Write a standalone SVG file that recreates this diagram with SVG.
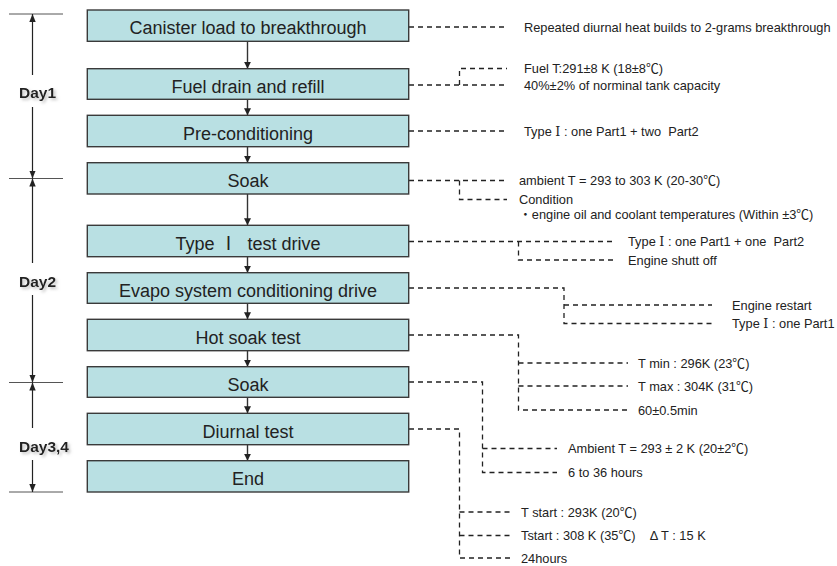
<svg xmlns="http://www.w3.org/2000/svg" width="837" height="566" viewBox="0 0 837 566" xml:space="preserve">
<defs>
<style>
text{white-space:pre}
.box{fill:#b9e0e3;stroke:#3a3a3a;stroke-width:1.4}
.bt{font-family:"Liberation Sans","Noto Sans CJK JP",sans-serif;font-size:18px;fill:#222;text-anchor:middle}
.at{font-family:"Liberation Sans","Noto Sans CJK JP",sans-serif;font-size:12.8px;fill:#222}
.rn{font-family:"DejaVu Serif","Noto Sans CJK JP",serif}
.day{font-family:"Liberation Sans",Arial,sans-serif;font-size:15.5px;font-weight:bold;fill:#222}
.flow{stroke:#333;stroke-width:1.4;fill:none;marker-end:url(#ah)}
.dash{stroke:#222;stroke-width:1.3;fill:none;stroke-dasharray:5,4}
.tick{stroke:#555;stroke-width:1;fill:none}
.dl{stroke:#222;stroke-width:1.2;fill:none}
</style>
<marker id="ah" viewBox="0 0 10 10" refX="10" refY="5" markerWidth="7" markerHeight="7" markerUnits="userSpaceOnUse" orient="auto"><path d="M0,0 L10,5 L0,10 Z" fill="#222"/></marker>
<marker id="dh" viewBox="0 0 10 10" refX="10" refY="5" markerWidth="8" markerHeight="8" markerUnits="userSpaceOnUse" orient="auto"><path d="M0,1 L10,5 L0,9 Z" fill="#222"/></marker>
<filter id="sh" x="-20%" y="-40%" width="150%" height="180%"><feDropShadow dx="2" dy="2" stdDeviation="1.5" flood-color="#999" flood-opacity="0.6"/></filter>
</defs>
<rect width="837" height="566" fill="#fff"/>

<g id="days">
<path class="tick" d="M9,14 H63 M9,178.5 H63 M9,382.5 H63 M9,492 H63"/>
<path class="dl" marker-end="url(#dh)" d="M32.5,75 V14"/>
<path class="dl" marker-end="url(#dh)" d="M32.5,107 V178.5"/>
<path class="dl" marker-end="url(#dh)" d="M32.5,263 V178.5"/>
<path class="dl" marker-end="url(#dh)" d="M32.5,295 V382.5"/>
<path class="dl" marker-end="url(#dh)" d="M32.5,428 V382.5"/>
<path class="dl" marker-end="url(#dh)" d="M32.5,460 V492"/>
<text class="day" x="19" y="97.5" filter="url(#sh)">Day1</text>
<text class="day" x="19" y="286.5" filter="url(#sh)">Day2</text>
<text class="day" x="19" y="451.5" filter="url(#sh)">Day3,4</text>
</g>

<g id="connectors">
<path class="flow" d="M247.5,41.3 V68.7"/>
<path class="flow" d="M247.5,99.3 V115.3"/>
<path class="flow" d="M247.5,146.7 V162.7"/>
<path class="flow" d="M247.5,194 V225.3"/>
<path class="flow" d="M247.5,256.7 V272.7"/>
<path class="flow" d="M247.5,303.3 V319.3"/>
<path class="flow" d="M247.5,350.7 V366.7"/>
<path class="flow" d="M247.5,397.3 V413.3"/>
<path class="flow" d="M247.5,444.7 V460.7"/>
<path class="dash" d="M409,27 H507"/>
<path class="dash" d="M409,85 H507 M459.5,85 V68.5 H507"/>
<path class="dash" d="M409,131 H507"/>
<path class="dash" d="M409,180.5 H507 M459.5,180.5 V199.5 H507"/>
<path class="dash" d="M409,241.5 H615 M518.5,241.5 V260 H615"/>
<path class="dash" d="M409,288 H564 V323.5 H712 M564,305 H712"/>
<path class="dash" d="M409,335 H518.5 V410 H628 M518.5,363 H628 M518.5,386 H628"/>
<path class="dash" d="M409,382 H482.5 V472.5 H557 M482.5,448.5 H557"/>
<path class="dash" d="M409,429 H459.5 V558 H510 M459.5,512 H510 M459.5,535.5 H510"/>
</g>

<g id="n1"><rect class="box" x="87.3" y="10" width="321.4" height="31.3"/><text class="bt" x="248" y="34.3">Canister load to breakthrough</text></g>
<g id="n2"><rect class="box" x="87.3" y="68.7" width="321.4" height="30.6"/><text class="bt" x="248" y="93.2">Fuel drain and refill</text></g>
<g id="n3"><rect class="box" x="87.3" y="115.3" width="321.4" height="31.4"/><text class="bt" x="248" y="139.8">Pre-conditioning</text></g>
<g id="n4"><rect class="box" x="87.3" y="162.7" width="321.4" height="31.3"/><text class="bt" x="248" y="187.2">Soak</text></g>
<g id="n5"><rect class="box" x="87.3" y="225.3" width="321.4" height="31.4"/><text class="bt" x="248" y="249.8">Type Ⅰ  test drive</text></g>
<g id="n6"><rect class="box" x="87.3" y="272.7" width="321.4" height="30.6"/><text class="bt" x="248" y="297.2">Evapo system conditioning drive</text></g>
<g id="n7"><rect class="box" x="87.3" y="319.3" width="321.4" height="31.4"/><text class="bt" x="248" y="343.8">Hot soak test</text></g>
<g id="n8"><rect class="box" x="87.3" y="366.7" width="321.4" height="30.6"/><text class="bt" x="248" y="391.2">Soak</text></g>
<g id="n9"><rect class="box" x="87.3" y="413.3" width="321.4" height="31.4"/><text class="bt" x="248" y="437.8">Diurnal test</text></g>
<g id="n10"><rect class="box" x="87.3" y="460.7" width="321.4" height="31.3"/><text class="bt" x="248" y="485.2">End</text></g>

<g id="notes">
<text class="at" x="524" y="31.5">Repeated diurnal heat builds to 2-grams breakthrough</text>
<text class="at" x="524" y="73">Fuel T:291±8 K (18±8℃)</text>
<text class="at" x="524" y="89.5">40%±2% of norminal tank capacity</text>
<text class="at" x="524" y="135.5">Type <tspan class="rn">Ⅰ</tspan> : one Part1 + two  Part2</text>
<text class="at" x="519" y="185">ambient T = 293 to 303 K (20-30℃)</text>
<text class="at" x="519" y="203.5">Condition</text>
<text class="at" x="519" y="218.5">・engine oil and coolant temperatures (Within ±3℃)</text>
<text class="at" x="628" y="246">Type <tspan class="rn">Ⅰ</tspan> : one Part1 + one  Part2</text>
<text class="at" x="628" y="264.5">Engine shutt off</text>
<text class="at" x="732" y="309.5">Engine restart</text>
<text class="at" x="732" y="328">Type <tspan class="rn">Ⅰ</tspan> : one Part1</text>
<text class="at" x="638" y="367.5">T min : 296K (23℃)</text>
<text class="at" x="638" y="390.5">T max : 304K (31℃)</text>
<text class="at" x="638" y="414.5">60±0.5min</text>
<text class="at" x="568" y="453">Ambient T = 293 ± 2 K (20±2℃)</text>
<text class="at" x="568" y="477">6 to 36 hours</text>
<text class="at" x="521" y="516.5">T start : 293K (20℃)</text>
<text class="at" x="521" y="540">Tstart : 308 K (35℃)    Δ T : 15 K</text>
<text class="at" x="521" y="562.5">24hours</text>
</g>
</svg>
